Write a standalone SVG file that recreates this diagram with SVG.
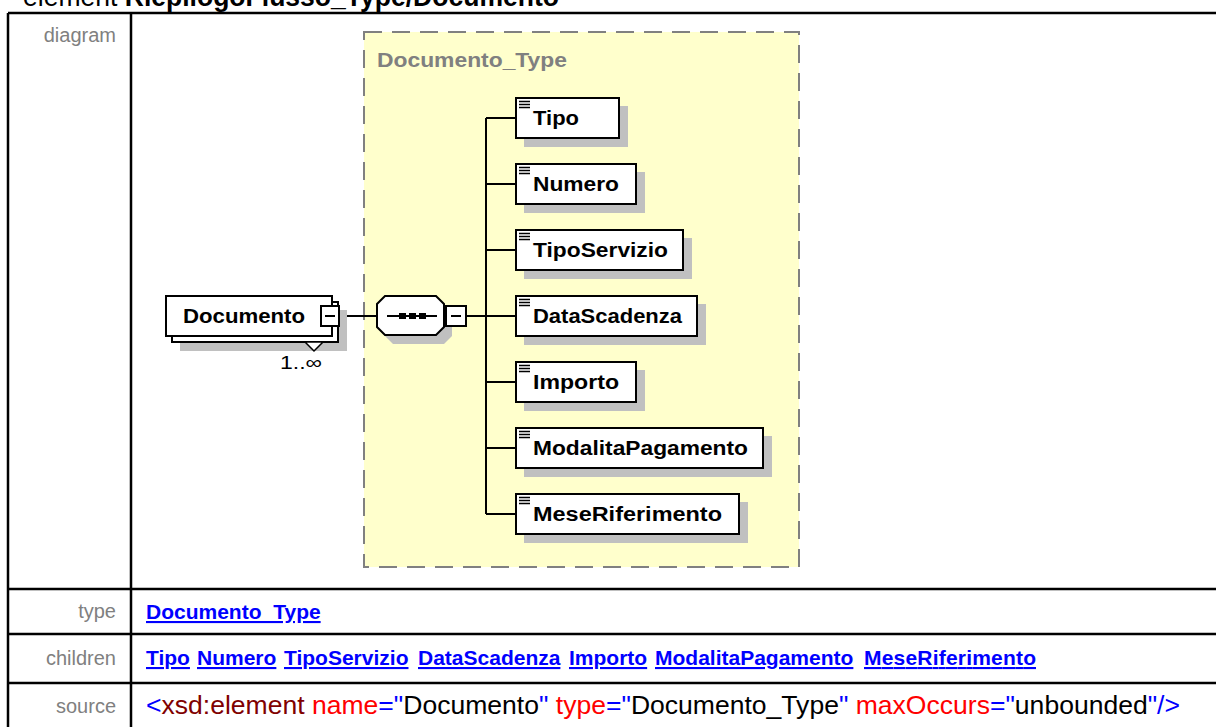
<svg xmlns="http://www.w3.org/2000/svg" width="1216" height="727" viewBox="0 0 1216 727">
<style>
.tbl{stroke:#000;stroke-width:2.5;fill:none}
.lbl{font-family:"Liberation Sans",Arial,sans-serif;font-size:20px;fill:#808080;text-anchor:end}
.lnk{font-family:"Liberation Sans",Arial,sans-serif;font-size:21px;font-weight:bold;fill:#0000FF;text-decoration:underline}
.src{font-family:"Liberation Sans",Arial,sans-serif;font-size:26.5px}
.box{fill:#fff;stroke:#000;stroke-width:2}
.shd{fill:#C0C0C0}
.nt{font-family:"Liberation Sans",Arial,sans-serif;font-size:20px;font-weight:bold;fill:#000}
.ico{stroke:#000;stroke-width:1.3}
.con{stroke:#000;stroke-width:2;fill:none}
</style>
<rect width="1216" height="727" fill="#fff"/>
<text x="23" y="6" font-family="'Liberation Sans',Arial,sans-serif" font-size="27" textLength="536" lengthAdjust="spacingAndGlyphs">element <tspan font-weight="bold">RiepilogoFlusso_Type/Documento</tspan></text>
<g id="table">
<path class="tbl" d="M8 13H1216M8 13V727M131 13V727M8 589H1216M8 634H1216M8 683H1216"/>
<text class="lbl" x="116" y="42">diagram</text>
<text class="lbl" x="116" y="618">type</text>
<text class="lbl" x="116" y="665">children</text>
<text class="lbl" x="116" y="713">source</text>
<text class="lnk" x="146" y="619">Documento_Type</text>
<text class="lnk" x="146" y="665">Tipo</text>
<text class="lnk" x="197" y="665">Numero</text>
<text class="lnk" x="284" y="665">TipoServizio</text>
<text class="lnk" x="418" y="665">DataScadenza</text>
<text class="lnk" x="569" y="665">Importo</text>
<text class="lnk" x="655" y="665">ModalitaPagamento</text>
<text class="lnk" x="864" y="665" textLength="172">MeseRiferimento</text>
<text class="src" x="146" y="714" textLength="1034" lengthAdjust="spacingAndGlyphs"><tspan fill="#0000FF">&lt;</tspan><tspan fill="#800000">xsd:element</tspan> <tspan fill="#FF0000">name</tspan><tspan fill="#0000FF">="</tspan><tspan fill="#000">Documento</tspan><tspan fill="#0000FF">"</tspan> <tspan fill="#FF0000">type</tspan><tspan fill="#0000FF">="</tspan><tspan fill="#000">Documento_Type</tspan><tspan fill="#0000FF">"</tspan> <tspan fill="#FF0000">maxOccurs</tspan><tspan fill="#0000FF">="</tspan><tspan fill="#000">unbounded</tspan><tspan fill="#0000FF">"/&gt;</tspan></text>
</g>
<g id="Documento_Type">
<rect x="364" y="32" width="435" height="535" fill="#FFFFCC" stroke="#808080" stroke-width="2" stroke-dasharray="18 10"/>
<text x="377" y="67" font-family="'Liberation Sans',Arial,sans-serif" font-size="20" font-weight="bold" fill="#808080" textLength="190" lengthAdjust="spacingAndGlyphs">Documento_Type</text>
</g>
<g id="connectors">
<path class="con" d="M340 316H377M466 316H486M486 118V514M486 118H516M486 184H516M486 250H516M486 316H516M486 382H516M486 448H516M486 514H516"/>
</g>
<g id="Documento">
<rect class="shd" x="180" y="310" width="167" height="41"/>
<rect class="box" x="172" y="302" width="166" height="40"/>
<rect class="box" x="166" y="296" width="166" height="40"/>
<text class="nt" x="183" y="323" textLength="122" lengthAdjust="spacingAndGlyphs">Documento</text>
<rect class="box" x="321" y="306" width="18" height="20"/>
<path class="con" d="M325 316H335"/>
<polygon points="305,342 314,351 323,342" fill="#fff" stroke="#000" stroke-width="1.5"/>
<text x="280" y="369" font-family="'Liberation Sans',Arial,sans-serif" font-size="19" textLength="42" lengthAdjust="spacingAndGlyphs">1..∞</text>
</g>
<g id="sequence">
<polygon class="shd" points="393,304 444,304 452,312 452,336 444,344 393,344 385,336 385,312"/>
<polygon class="box" points="385,296 436,296 444,304 444,327 436,335 385,335 377,327 377,304"/>
<path class="con" d="M387 316H437"/>
<rect x="399" y="313" width="7" height="6"/>
<rect x="409" y="313" width="7" height="6"/>
<rect x="419" y="313" width="7" height="6"/>
<rect class="box" x="446" y="306" width="20" height="20"/>
<path class="con" d="M451 316H461"/>
</g>
<g id="Tipo">
<rect class="shd" x="524" y="106" width="104" height="41"/>
<rect class="box" x="516" y="98" width="103" height="40"/>
<path class="ico" d="M519 101.5H530M519 104.5H530M519 107.5H530"/>
<text class="nt" x="533" y="125" textLength="46" lengthAdjust="spacingAndGlyphs">Tipo</text>
</g>
<g id="Numero">
<rect class="shd" x="524" y="172" width="121" height="41"/>
<rect class="box" x="516" y="164" width="120" height="40"/>
<path class="ico" d="M519 167.5H530M519 170.5H530M519 173.5H530"/>
<text class="nt" x="533" y="191" textLength="86" lengthAdjust="spacingAndGlyphs">Numero</text>
</g>
<g id="TipoServizio">
<rect class="shd" x="524" y="238" width="168" height="41"/>
<rect class="box" x="516" y="230" width="167" height="40"/>
<path class="ico" d="M519 233.5H530M519 236.5H530M519 239.5H530"/>
<text class="nt" x="533" y="257" textLength="135" lengthAdjust="spacingAndGlyphs">TipoServizio</text>
</g>
<g id="DataScadenza">
<rect class="shd" x="524" y="304" width="182" height="41"/>
<rect class="box" x="516" y="296" width="181" height="40"/>
<path class="ico" d="M519 299.5H530M519 302.5H530M519 305.5H530"/>
<text class="nt" x="533" y="323" textLength="149" lengthAdjust="spacingAndGlyphs">DataScadenza</text>
</g>
<g id="Importo">
<rect class="shd" x="524" y="370" width="121" height="41"/>
<rect class="box" x="516" y="362" width="120" height="40"/>
<path class="ico" d="M519 365.5H530M519 368.5H530M519 371.5H530"/>
<text class="nt" x="533" y="389" textLength="86" lengthAdjust="spacingAndGlyphs">Importo</text>
</g>
<g id="ModalitaPagamento">
<rect class="shd" x="524" y="436" width="248" height="41"/>
<rect class="box" x="516" y="428" width="247" height="40"/>
<path class="ico" d="M519 431.5H530M519 434.5H530M519 437.5H530"/>
<text class="nt" x="533" y="455" textLength="215" lengthAdjust="spacingAndGlyphs">ModalitaPagamento</text>
</g>
<g id="MeseRiferimento">
<rect class="shd" x="524" y="502" width="224" height="41"/>
<rect class="box" x="516" y="494" width="223" height="40"/>
<path class="ico" d="M519 497.5H530M519 500.5H530M519 503.5H530"/>
<text class="nt" x="533" y="521" textLength="189" lengthAdjust="spacingAndGlyphs">MeseRiferimento</text>
</g>
</svg>
